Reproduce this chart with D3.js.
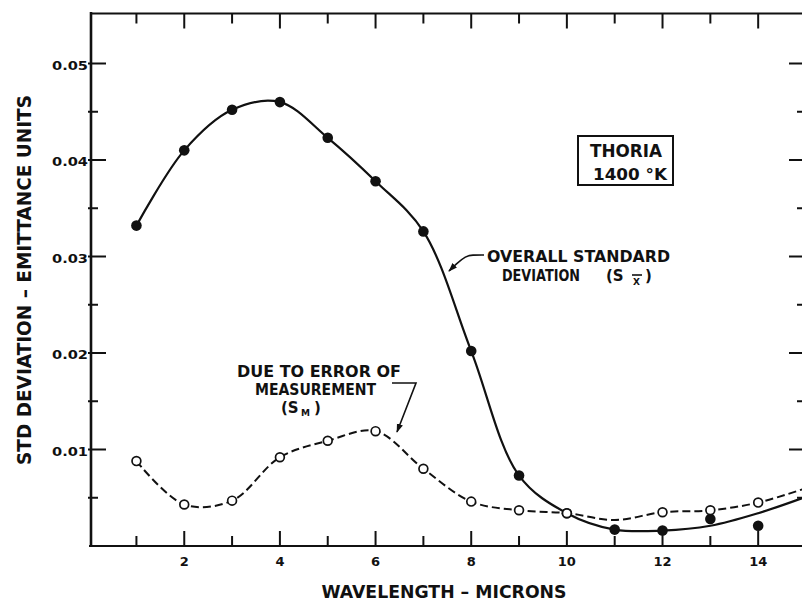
<!DOCTYPE html>
<html>
<head>
<meta charset="utf-8">
<script src="https://cdn.jsdelivr.net/npm/d3@7"></script>
<style>
  body { margin: 0; background: #fff; }
  svg { display: block; }
  text { font-family: "DejaVu Sans", sans-serif; font-weight: bold; fill: #111; }
</style>
</head>
<body>
<script>
// Wavelengths (microns) at which the standard deviations were evaluated
const waves = [1, 2, 3, 4, 5, 6, 7, 8, 9, 10, 11, 12, 13, 14];
// Overall standard deviation S_X̄ (emittance units), plotted points
const overallPts = [0.0332, 0.0410, 0.0452, 0.0460, 0.0423, 0.0378, 0.0326, 0.0202, 0.0073, 0.0034, 0.0017, 0.0016, 0.0028, 0.0021];
// Smoothed curve drawn through the overall points
const fitWaves = [1, 2, 3, 4, 5, 6, 7, 8, 9, 10, 11, 12, 13, 14, 15];
const overallFit = [0.0332, 0.0410, 0.0452, 0.0460, 0.0423, 0.0378, 0.0326, 0.0202, 0.0073, 0.0034, 0.0017, 0.0016, 0.0021, 0.0034, 0.0051];
// Deviation due to error of measurement S_M, plotted points
const measWaves = [1, 2, 3, 4, 5, 6, 7, 8, 9, 10, 12, 13, 14];
const measPts = [0.0088, 0.0043, 0.0047, 0.0092, 0.0109, 0.0119, 0.0080, 0.0046, 0.0037, 0.0034, 0.0035, 0.0037, 0.0045];
// Smoothed dashed curve through the measurement points
const measFit = [0.0088, 0.0043, 0.0047, 0.0092, 0.0109, 0.0119, 0.0080, 0.0046, 0.0037, 0.0034, 0.0027, 0.0035, 0.0037, 0.0045, 0.0060];
// Axis ticks
const xMajor = [2, 4, 6, 8, 10, 12, 14];
const xMinor = [1, 3, 5, 7, 9, 11, 13];
const yMajor = [0.01, 0.02, 0.03, 0.04, 0.05];
const yMinor = [0.005, 0.015, 0.025, 0.035, 0.045];
const yLabels = ["0.01", "0.02", "0.03", "0.04", "0.05"];

const W = 802, H = 604;
const padL = 91, padR = 804, padT = 13.5, padB = 546;

const x = d3.scaleLinear().domain([0, 15]).range([88.6, 806]);
const y = d3.scaleLinear().domain([0, 0.055]).range([padB, padB - 0.055 * 9650]);

const svg = d3.select("body").append("svg")
  .attr("width", W).attr("height", H).attr("viewBox", `0 0 ${W} ${H}`);

svg.append("rect").attr("width", W).attr("height", H).attr("fill", "#fff");

const defs = svg.append("defs");
defs.append("clipPath").attr("id", "plot")
  .append("rect").attr("x", padL).attr("y", padT).attr("width", padR - padL).attr("height", padB - padT);
defs.append("marker").attr("id", "arrow")
  .attr("viewBox", "0 0 10 10").attr("refX", 9).attr("refY", 5)
  .attr("markerWidth", 9).attr("markerHeight", 9).attr("orient", "auto")
  .attr("markerUnits", "userSpaceOnUse")
  .append("path").attr("d", "M0,1.5 L10,5 L0,8.5 Z").attr("fill", "#111");

const ink = "#111";

// Frame
svg.append("line").attr("x1", padL).attr("x2", padL).attr("y1", padT - 1.5).attr("y2", padB + 1)
  .attr("stroke", ink).attr("stroke-width", 2.6);
svg.append("line").attr("x1", padL - 2).attr("x2", W).attr("y1", padB).attr("y2", padB)
  .attr("stroke", ink).attr("stroke-width", 2.2);
svg.append("line").attr("x1", padL).attr("x2", W).attr("y1", padT).attr("y2", padT)
  .attr("stroke", ink).attr("stroke-width", 2);
svg.append("line").attr("x1", padR).attr("x2", padR).attr("y1", padT).attr("y2", padB)
  .attr("stroke", ink).attr("stroke-width", 2);

// Bottom and top ticks (inward)
const g = svg.append("g").attr("stroke", ink).attr("stroke-width", 2);
function xTicks(vals, len) {
  g.selectAll(null).data(vals).join("line")
    .attr("x1", d => x(d)).attr("x2", d => x(d))
    .attr("y1", padB).attr("y2", padB - len);
  g.selectAll(null).data(vals).join("line")
    .attr("x1", d => x(d)).attr("x2", d => x(d))
    .attr("y1", padT).attr("y2", padT + len);
}
xTicks(xMajor, 15);
xTicks(xMinor, 10);

// Left and right ticks (inward)
function yTicks(vals, len) {
  g.selectAll(null).data(vals).join("line")
    .attr("x1", padL - 3).attr("x2", padL + len)
    .attr("y1", d => y(d)).attr("y2", d => y(d));
  g.selectAll(null).data(vals).join("line")
    .attr("x1", padR).attr("x2", padR - len)
    .attr("y1", d => y(d)).attr("y2", d => y(d));
}
yTicks(yMajor, 15);
yTicks(yMinor, 7);

// Tick labels
svg.selectAll(null).data(xMajor).join("text")
  .attr("x", d => x(d)).attr("y", 566)
  .attr("text-anchor", "middle").attr("font-size", 13)
  .text(d => d);
svg.selectAll(null).data(yMajor).join("text")
  .attr("x", 88).attr("y", d => y(d) + 6)
  .attr("text-anchor", "end").attr("font-size", 13)
  .attr("textLength", 36).attr("lengthAdjust", "spacingAndGlyphs")
  .text((d, i) => yLabels[i]);

// Axis titles
svg.append("text")
  .attr("transform", "translate(31,280) rotate(-90)")
  .attr("text-anchor", "middle").attr("font-size", 19)
  .attr("textLength", 370).attr("lengthAdjust", "spacingAndGlyphs")
  .text("STD  DEVIATION – EMITTANCE  UNITS");
svg.append("text")
  .attr("x", 444).attr("y", 598)
  .attr("text-anchor", "middle").attr("font-size", 18)
  .attr("textLength", 245).attr("lengthAdjust", "spacingAndGlyphs")
  .text("WAVELENGTH – MICRONS");

// Curves
const plot = svg.append("g").attr("clip-path", "url(#plot)");
const line = d3.line().curve(d3.curveCatmullRom.alpha(0.5));

plot.append("path")
  .attr("d", line(fitWaves.map((w, i) => [x(w), y(measFit[i])])))
  .attr("fill", "none").attr("stroke", ink).attr("stroke-width", 2)
  .attr("stroke-dasharray", "8,4");
plot.append("path")
  .attr("d", line(fitWaves.map((w, i) => [x(w), y(overallFit[i])])))
  .attr("fill", "none").attr("stroke", ink).attr("stroke-width", 2.2);

// Points
plot.selectAll(null).data(waves).join("circle")
  .attr("cx", d => x(d)).attr("cy", (d, i) => y(overallPts[i]))
  .attr("r", 5.3).attr("fill", ink);
plot.selectAll(null).data(measWaves).join("circle")
  .attr("cx", d => x(d)).attr("cy", (d, i) => y(measPts[i]))
  .attr("r", 4.4).attr("fill", "#fff").attr("stroke", ink).attr("stroke-width", 1.7);

// Sample box
svg.append("rect").attr("x", 578).attr("y", 136).attr("width", 95).attr("height", 49)
  .attr("fill", "none").attr("stroke", ink).attr("stroke-width", 2);
svg.append("text").attr("x", 590).attr("y", 157).attr("font-size", 17)
  .attr("textLength", 72).attr("lengthAdjust", "spacingAndGlyphs").text("THORIA");
svg.append("text").attr("x", 593).attr("y", 180).attr("font-size", 16)
  .attr("textLength", 74).attr("lengthAdjust", "spacingAndGlyphs").text("1400 °K");

// Overall standard deviation label and leader
svg.append("text").attr("x", 487).attr("y", 262).attr("font-size", 15)
  .attr("textLength", 183).attr("lengthAdjust", "spacingAndGlyphs").text("OVERALL  STANDARD");
svg.append("text").attr("x", 502).attr("y", 281).attr("font-size", 15)
  .attr("textLength", 78).attr("lengthAdjust", "spacingAndGlyphs").text("DEVIATION");
svg.append("text").attr("x", 606).attr("y", 281).attr("font-size", 15).text("(S");
svg.append("text").attr("x", 633).attr("y", 285).attr("font-size", 9).text("X");
svg.append("line").attr("x1", 632).attr("x2", 642).attr("y1", 275).attr("y2", 275)
  .attr("stroke", ink).attr("stroke-width", 1.6);
svg.append("text").attr("x", 645).attr("y", 281).attr("font-size", 15).text(")");
svg.append("path")
  .attr("d", d3.line().curve(d3.curveBasis)([[484, 255], [472, 255], [466, 256], [456, 264], [449, 271]]))
  .attr("fill", "none").attr("stroke", ink).attr("stroke-width", 1.6)
  .attr("marker-end", "url(#arrow)");

// Measurement error label and leader
svg.append("text").attr("x", 237).attr("y", 377).attr("font-size", 15)
  .attr("textLength", 164).attr("lengthAdjust", "spacingAndGlyphs").text("DUE  TO  ERROR  OF");
svg.append("text").attr("x", 255).attr("y", 395).attr("font-size", 15)
  .attr("textLength", 121).attr("lengthAdjust", "spacingAndGlyphs").text("MEASUREMENT");
svg.append("text").attr("x", 281).attr("y", 413).attr("font-size", 15).text("(S");
svg.append("text").attr("x", 301).attr("y", 416).attr("font-size", 9).text("M");
svg.append("text").attr("x", 314).attr("y", 413).attr("font-size", 15).text(")");
svg.append("path")
  .attr("d", "M392,383 L416,383 L397,432")
  .attr("fill", "none").attr("stroke", ink).attr("stroke-width", 1.6)
  .attr("marker-end", "url(#arrow)");
</script>
</body>
</html>
